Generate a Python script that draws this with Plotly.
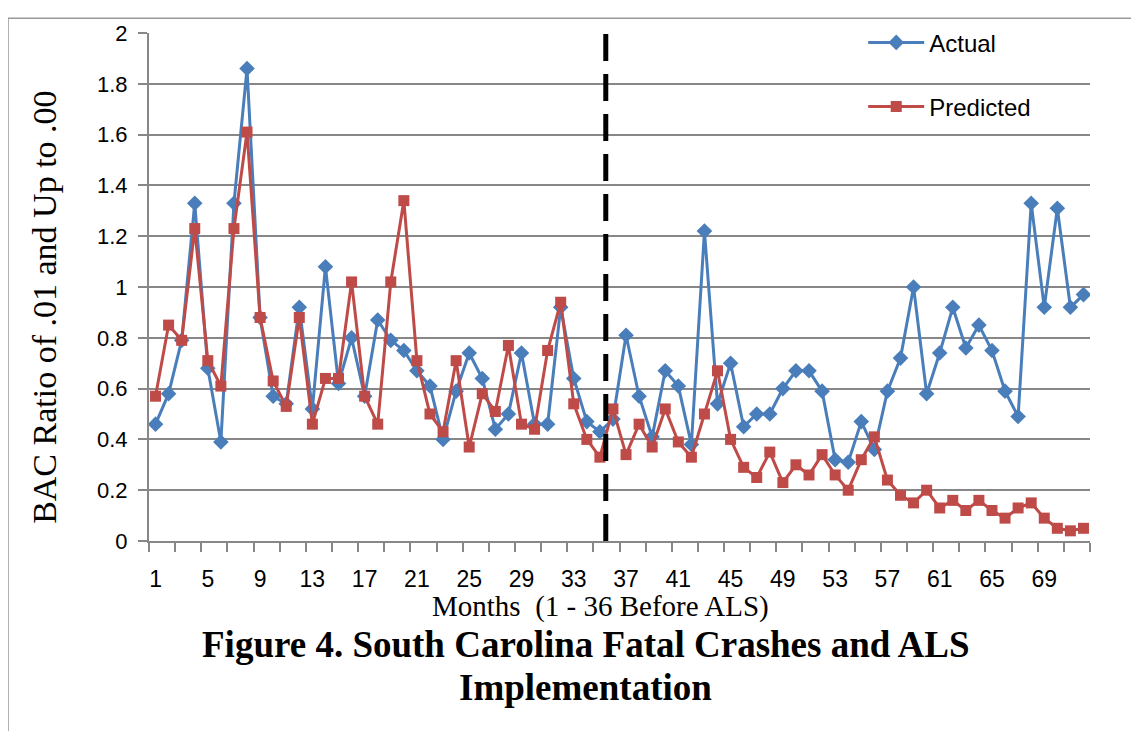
import plotly.graph_objects as go

months = list(range(1, 73))
actual = [0.46, 0.58, 0.79, 1.33, 0.68, 0.39, 1.33, 1.86, 0.88, 0.57,
          0.54, 0.92, 0.52, 1.08, 0.62, 0.80, 0.57, 0.87, 0.79, 0.75,
          0.67, 0.61, 0.40, 0.59, 0.74, 0.64, 0.44, 0.50, 0.74, 0.46,
          0.46, 0.92, 0.64, 0.47, 0.43, 0.48, 0.81, 0.57, 0.41, 0.67,
          0.61, 0.38, 1.22, 0.54, 0.70, 0.45, 0.50, 0.50, 0.60, 0.67,
          0.67, 0.59, 0.32, 0.31, 0.47, 0.36, 0.59, 0.72, 1.00, 0.58,
          0.74, 0.92, 0.76, 0.85, 0.75, 0.59, 0.49, 1.33, 0.92, 1.31,
          0.92, 0.97]
predicted = [0.57, 0.85, 0.79, 1.23, 0.71, 0.61, 1.23, 1.61, 0.88, 0.63,
             0.53, 0.88, 0.46, 0.64, 0.64, 1.02, 0.57, 0.46, 1.02, 1.34,
             0.71, 0.50, 0.43, 0.71, 0.37, 0.58, 0.51, 0.77, 0.46, 0.44,
             0.75, 0.94, 0.54, 0.40, 0.33, 0.52, 0.34, 0.46, 0.37, 0.52,
             0.39, 0.33, 0.50, 0.67, 0.40, 0.29, 0.25, 0.35, 0.23, 0.30,
             0.26, 0.34, 0.26, 0.20, 0.32, 0.41, 0.24, 0.18, 0.15, 0.20,
             0.13, 0.16, 0.12, 0.16, 0.12, 0.09, 0.13, 0.15, 0.09, 0.05,
             0.04, 0.05]
x_tick_labels = list(range(1, 72, 4))
als_boundary = 35.45

BLUE = "#4A7EBB"
RED = "#BE4B48"
GRID = "#878787"
SERIF = "Liberation Serif, Times New Roman, serif"
SANS = "Liberation Sans, Arial, sans-serif"

fig = go.Figure()
fig.add_trace(go.Scatter(
    x=months, y=actual, name="Actual", mode="lines+markers",
    line=dict(color=BLUE, width=3),
    marker=dict(symbol="diamond", size=12, color=BLUE),
    legendgroup="a"))
fig.add_trace(go.Scatter(
    x=months, y=predicted, name="Predicted", mode="lines+markers",
    line=dict(color=RED, width=3),
    marker=dict(symbol="square", size=11, color=RED),
    legendgroup="p"))

fig.add_shape(type="line", xref="x", yref="y",
              x0=als_boundary, x1=als_boundary, y0=0, y1=2.02,
              line=dict(color="black", width=5, dash="27px,13px"))

# outer frame remnants (left and top edges)
fig.add_shape(type="line", xref="paper", yref="paper",
              x0=-0.1498, x1=-0.1498, y0=1.029, y1=-0.4,
              line=dict(color="#9a9a9a", width=1.5))
fig.add_shape(type="line", xref="paper", yref="paper",
              x0=-0.1498, x1=1.1, y0=1.029, y1=1.029,
              line=dict(color="#9a9a9a", width=1.5))

fig.update_layout(
    width=1139, height=731,
    margin=dict(l=141, r=57, t=17, b=198),
    plot_bgcolor="white", paper_bgcolor="white",
    showlegend=True,
    legend=dict(x=0.759, y=1.025, xanchor="left", yanchor="top",
                font=dict(family=SANS, size=24, color="black"),
                bgcolor="rgba(0,0,0,0)", traceorder="grouped",
                tracegroupgap=30, itemwidth=56),
    xaxis=dict(range=[0.5, 72.5], tickvals=x_tick_labels,
               ticktext=[str(v) for v in x_tick_labels],
               ticks="", showgrid=False, zeroline=False,
               showline=True, linecolor=GRID, linewidth=2,
               tickfont=dict(family=SANS, size=23, color="black"),
               ticklabelstandoff=16,
               minor=dict(tick0=0.5, dtick=2, ticks="outside",
                          ticklen=9, tickcolor=GRID, tickwidth=1.5,
                          showgrid=False)),
    yaxis=dict(range=[0, 2], dtick=0.2, tick0=0,
               ticks="outside", ticklen=9, tickcolor=GRID, tickwidth=1.5,
               showgrid=True, gridcolor=GRID, gridwidth=1.5,
               zeroline=False, showline=True, linecolor=GRID, linewidth=2,
               ticklabelstandoff=6,
               tickfont=dict(family=SANS, size=22, color="black")),
    annotations=[
        dict(text="BAC Ratio of .01 and Up to .00", textangle=-90,
             xref="paper", yref="paper", x=-0.111, y=0.46,
             xanchor="center", yanchor="middle", showarrow=False,
             font=dict(family=SERIF, size=34, color="black")),
        dict(text="Months  (1 - 36 Before ALS)",
             xref="paper", yref="paper", x=0.48, y=-0.128,
             xanchor="center", yanchor="middle", showarrow=False,
             font=dict(family=SERIF, size=29, color="black")),
        dict(text="<b>Figure 4. South Carolina Fatal Crashes and ALS</b>",
             xref="paper", yref="paper", x=0.464, y=-0.204,
             xanchor="center", yanchor="middle", showarrow=False,
             font=dict(family=SERIF, size=37, color="black")),
        dict(text="<b>Implementation</b>",
             xref="paper", yref="paper", x=0.464, y=-0.288,
             xanchor="center", yanchor="middle", showarrow=False,
             font=dict(family=SERIF, size=37, color="black")),
    ],
)

fig.write_html("out.html")
